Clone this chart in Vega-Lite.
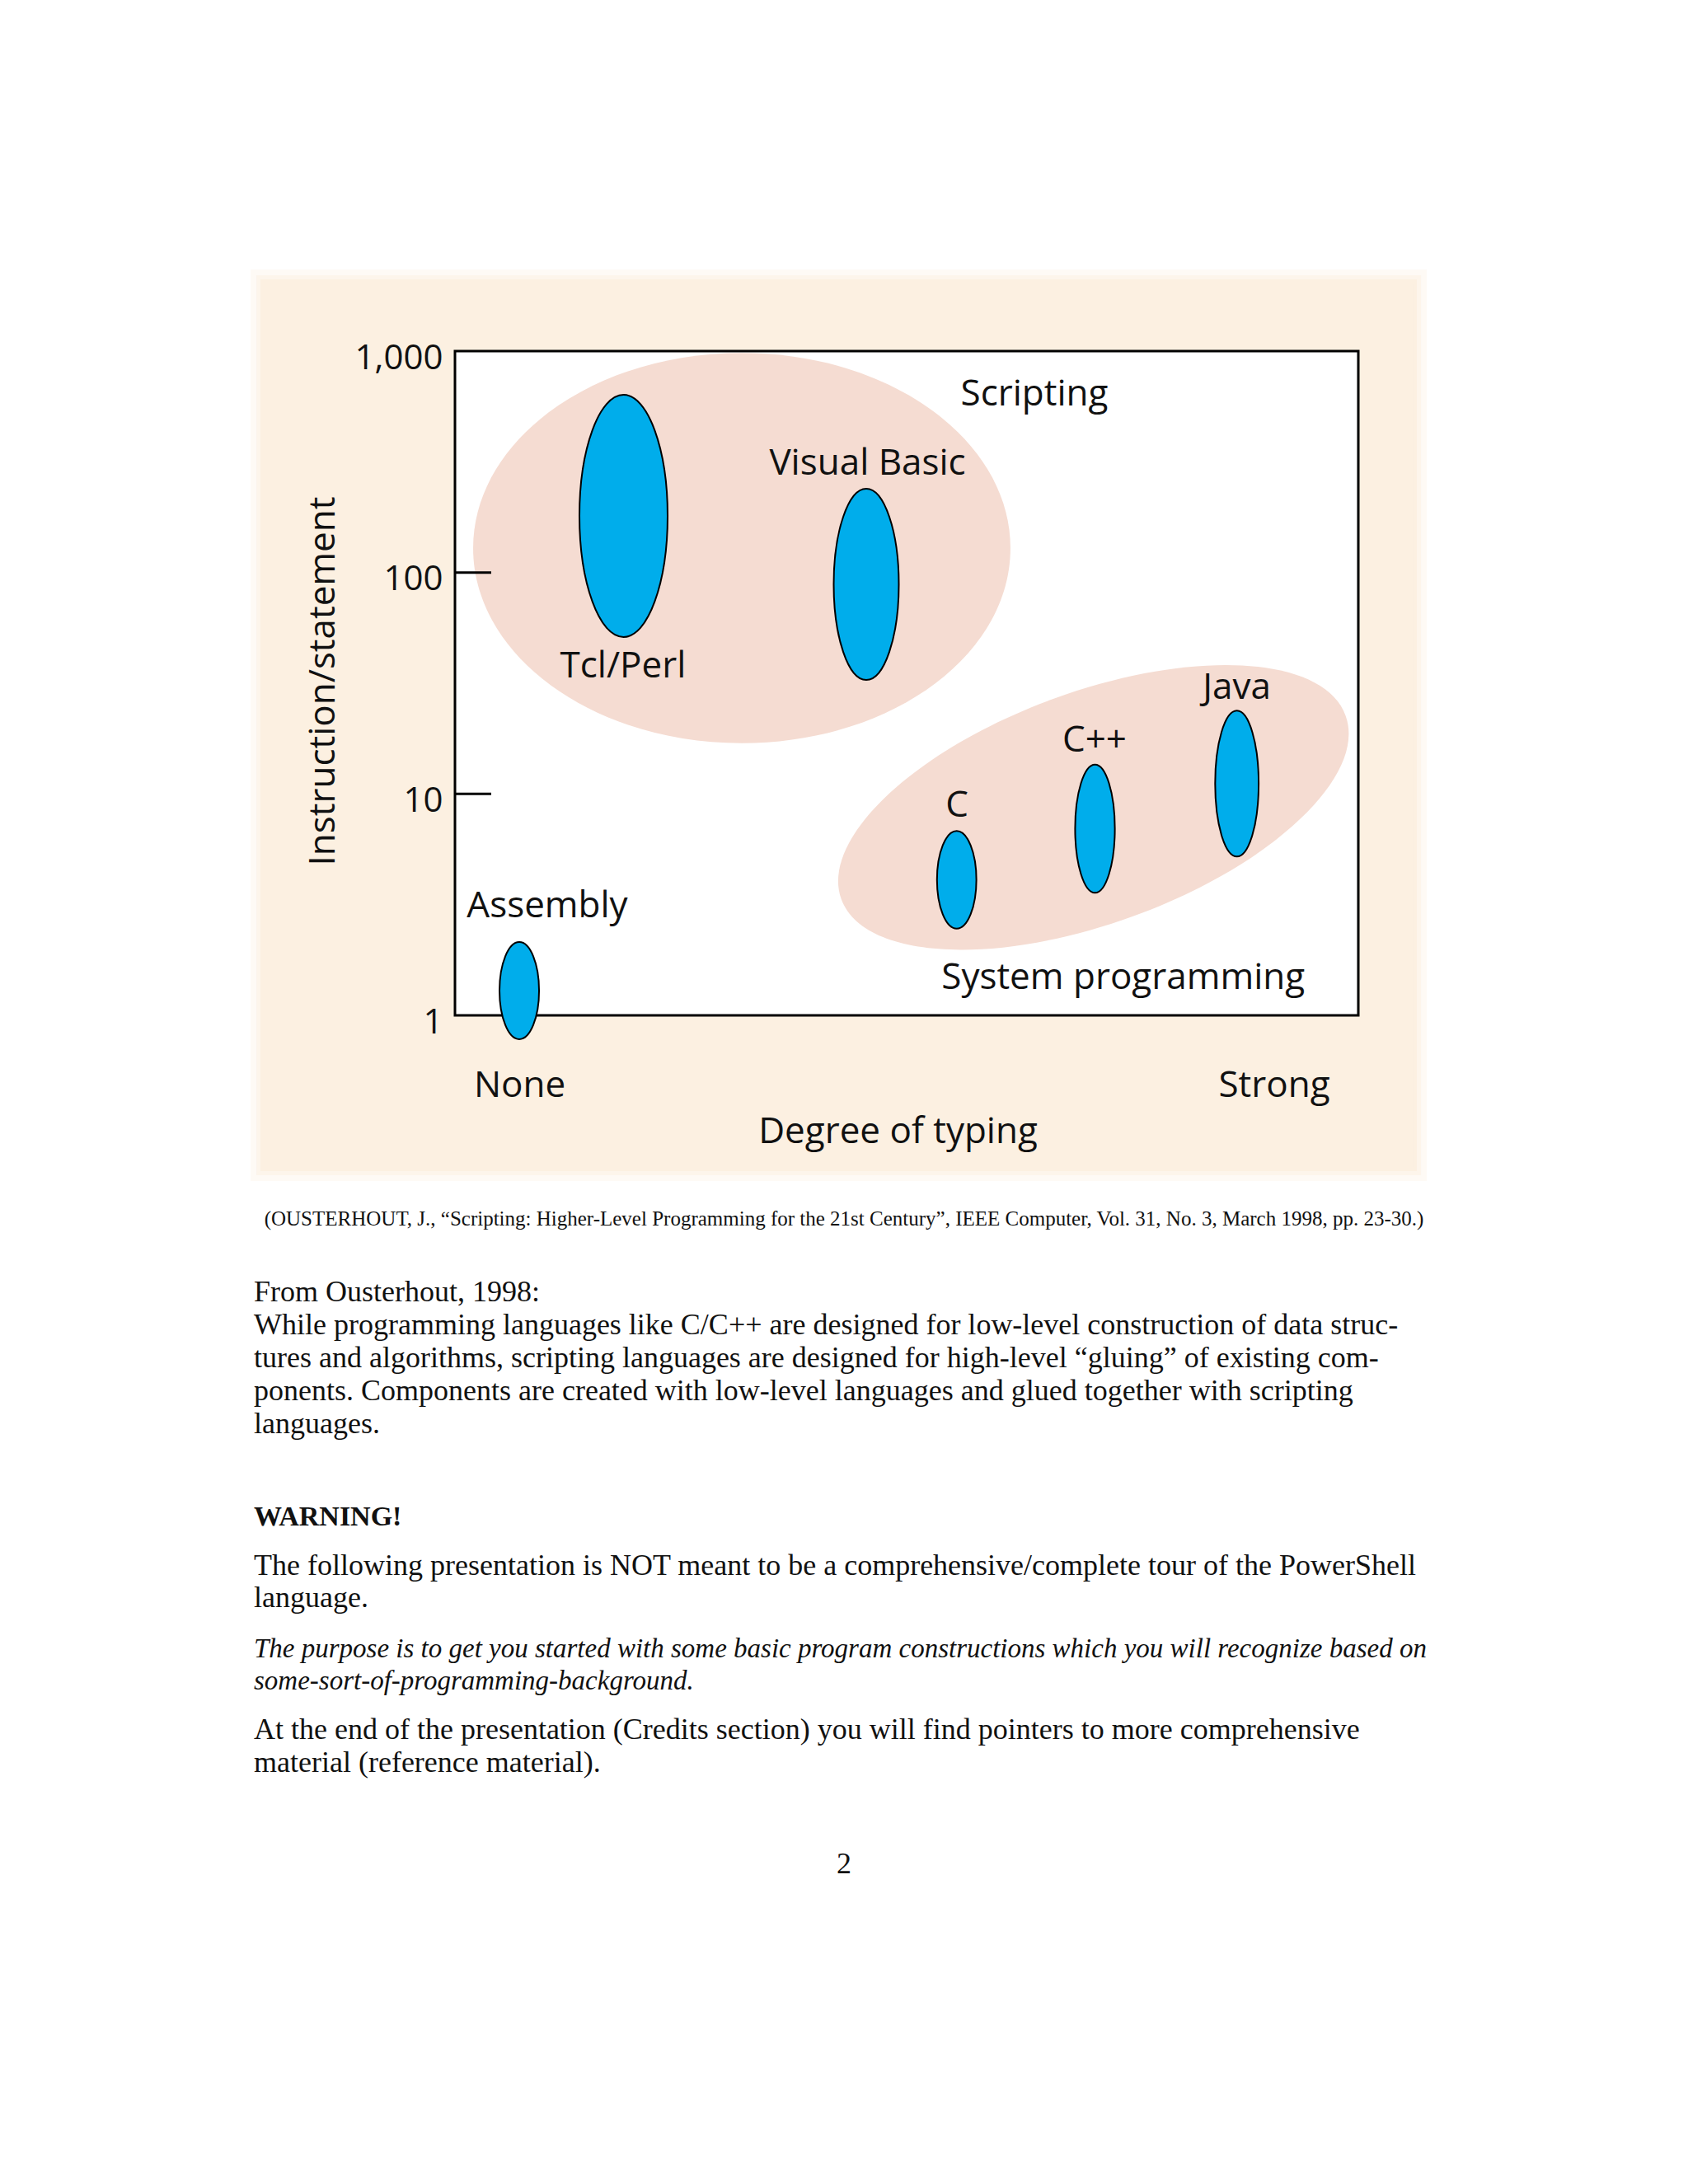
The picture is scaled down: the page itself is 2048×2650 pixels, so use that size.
{
  "$schema": "https://vega.github.io/schema/vega-lite/v6.json",
  "width": 1096,
  "height": 806,
  "autosize": {"type": "none"},
  "padding": {"left": 552, "top": 426, "right": 400, "bottom": 1418},
  "background": "#ffffff",
  "config": {"view": {"stroke": null}, "font": "Open Sans"},
  "datasets": {
    "panel": [{"x0": -0.2153, "x1": 1.0648, "y0": 0.1979, "y1": 2108}],
    "frame": [{"x0": 0, "x1": 1, "y0": 1, "y1": 1000}],
    "ticks": [{"tick": 10}, {"tick": 100}],
    "ellipses": [
      {"name": "Scripting languages", "kind": "region", "typing": 0.3175, "ips": 128.9, "spread": 0.881},
      {"name": "System programming languages", "kind": "region", "typing": 0.7068, "ips": 8.69, "spread": 0.6439},
      {"name": "Tcl/Perl", "kind": "language", "typing": 0.1866, "ips": 180.1, "spread": 0.547},
      {"name": "Visual Basic", "kind": "language", "typing": 0.4553, "ips": 88.4, "spread": 0.4318},
      {"name": "C", "kind": "language", "typing": 0.5554, "ips": 4.096, "spread": 0.2203},
      {"name": "C++", "kind": "language", "typing": 0.7085, "ips": 6.966, "spread": 0.2896},
      {"name": "Java", "kind": "language", "typing": 0.8656, "ips": 11.13, "spread": 0.3294},
      {"name": "Assembly", "kind": "language", "typing": 0.0712, "ips": 1.293, "spread": 0.2196}
    ],
    "labels": [
      {"label": "Scripting", "typing": 0.6414, "ips": 569.6},
      {"label": "Visual Basic", "typing": 0.4567, "ips": 276.5},
      {"label": "Tcl/Perl", "typing": 0.1861, "ips": 33.67},
      {"label": "Java", "typing": 0.8654, "ips": 26.8},
      {"label": "C++", "typing": 0.708, "ips": 15.57},
      {"label": "C", "typing": 0.5557, "ips": 7.91},
      {"label": "Assembly", "typing": 0.1022, "ips": 2.773},
      {"label": "System programming", "typing": 0.7397, "ips": 1.3153}
    ],
    "page": [
      {"kind": "caption", "line": -2.33, "text": "(OUSTERHOUT, J., “Scripting: Higher-Level Programming for the 21st Century”, IEEE Computer, Vol. 31, No. 3, March 1998, pp. 23-30.)"},
      {"kind": "body", "line": 0, "text": "From Ousterhout, 1998:"},
      {"kind": "body", "line": 1, "text": "While programming languages like C/C++ are designed for low-level construction of data struc-"},
      {"kind": "body", "line": 2, "text": "tures and algorithms, scripting languages are designed for high-level “gluing” of existing com-"},
      {"kind": "body", "line": 3, "text": "ponents. Components are created with low-level languages and glued together with scripting"},
      {"kind": "body", "line": 4, "text": "languages."},
      {"kind": "bold", "line": 6.82, "text": "WARNING!"},
      {"kind": "body", "line": 8.33, "text": "The following presentation is NOT meant to be a comprehensive/complete tour of the PowerShell"},
      {"kind": "body", "line": 9.32, "text": "language."},
      {"kind": "italic", "line": 10.84, "text": "The purpose is to get you started with some basic program constructions which you will recognize based on"},
      {"kind": "italic", "line": 11.83, "text": "some-sort-of-programming-background."},
      {"kind": "body", "line": 13.34, "text": "At the end of the presentation (Credits section) you will find pointers to more comprehensive"},
      {"kind": "body", "line": 14.33, "text": "material (reference material)."},
      {"kind": "pagenum", "line": 17.43, "text": "2"}
    ]
  },
  "layer": [
    {
      "layer": [
        {
          "data": {"name": "frame"},
          "mark": {"type": "rect", "fillOpacity": 0, "strokeOpacity": 0},
          "encoding": {
            "x": {
              "field": "x0", "type": "quantitative",
              "scale": {"domain": [0, 1], "nice": false, "zero": false},
              "axis": {
                "values": [0.0712, 0.9065],
                "labelExpr": "datum.value < 0.5 ? 'None' : 'Strong'",
                "labelFont": "Open Sans", "labelFontSize": 44, "labelColor": "#111111",
                "labelBaseline": "alphabetic", "labelAlign": "center", "labelPadding": 98,
                "labelFlush": false, "labelOverlap": false,
                "ticks": false, "domain": false, "grid": false, "zindex": 1,
                "title": "Degree of typing", "titleFont": "Open Sans", "titleFontSize": 44,
                "titleFontWeight": "normal", "titleColor": "#111111",
                "titleBaseline": "alphabetic", "titleX": 537, "titleY": 154
              }
            },
            "x2": {"field": "x1"},
            "y": {
              "field": "y0", "type": "quantitative",
              "scale": {"type": "log", "domain": [1, 1000], "nice": false},
              "axis": {
                "values": [1, 10, 100, 1000], "format": ",",
                "labelFont": "Open Sans", "labelFontSize": 42, "labelColor": "#111111",
                "labelBaseline": "alphabetic", "labelOffset": 21, "labelPadding": 15,
                "labelFlush": false, "labelOverlap": false,
                "ticks": false, "domain": false, "grid": false, "zindex": 1,
                "title": "Instruction/statement", "titleFont": "Open Sans", "titleFontSize": 44,
                "titleFontWeight": "normal", "titleColor": "#111111",
                "titleBaseline": "alphabetic", "titleAngle": -90, "titleX": -147, "titleY": 400
              }
            },
            "y2": {"field": "y1"}
          }
        },
        {
          "data": {"name": "panel"},
          "mark": {"type": "rect", "fill": "#fcf0e1", "stroke": "#fcf0e1", "strokeWidth": 24, "strokeOpacity": 0.35},
          "encoding": {
            "x": {"field": "x0", "type": "quantitative"},
            "x2": {"field": "x1"},
            "y": {"field": "y0", "type": "quantitative"},
            "y2": {"field": "y1"}
          }
        },
        {
          "data": {"name": "panel"},
          "mark": {"type": "rect", "fillOpacity": 0, "stroke": "#fcf0e1", "strokeWidth": 10, "strokeOpacity": 0.5},
          "encoding": {
            "x": {"field": "x0", "type": "quantitative"},
            "x2": {"field": "x1"},
            "y": {"field": "y0", "type": "quantitative"},
            "y2": {"field": "y1"}
          }
        },
        {
          "data": {"name": "frame"},
          "mark": {"type": "rect", "fill": "#ffffff", "stroke": "#000000", "strokeWidth": 3},
          "encoding": {
            "x": {"field": "x0", "type": "quantitative"},
            "x2": {"field": "x1"},
            "y": {"field": "y0", "type": "quantitative"},
            "y2": {"field": "y1"}
          }
        },
        {
          "data": {"name": "ellipses"},
          "transform": [{"filter": "datum.kind === 'region'"}],
          "mark": {"type": "point", "filled": true, "fill": "#f5dcd2", "strokeWidth": 0, "opacity": 1},
          "encoding": {
            "x": {"field": "typing", "type": "quantitative"},
            "y": {"field": "ips", "type": "quantitative"},
            "shape": {
              "field": "name", "type": "nominal", "legend": null,
              "scale": {
                "domain": ["Scripting languages", "System programming languages", "Tcl/Perl", "Visual Basic", "C", "C++", "Java", "Assembly"],
                "range": [
                  "M0,-1C0.7605,-1 1.377,-0.5523 1.377,0C1.377,0.5523 0.7605,1 0,1C-0.7605,1 -1.377,0.5523 -1.377,0C-1.377,-0.5523 -0.7605,-1 0,-1Z",
                  "M1.7685,-0.6436C1.9219,-0.2222 1.2544,0.4075 0.2777,0.763C-0.699,1.1185 -1.6151,1.065 -1.7685,0.6436C-1.9219,0.2222 -1.2544,-0.4075 -0.2777,-0.763C0.699,-1.1185 1.6151,-1.065 1.7685,-0.6436Z",
                  "M0,-1C0.201,-1 0.364,-0.5523 0.364,0C0.364,0.5523 0.201,1 0,1C-0.201,1 -0.364,0.5523 -0.364,0C-0.364,-0.5523 -0.201,-1 0,-1Z",
                  "M0,-1C0.1881,-1 0.3405,-0.5523 0.3405,0C0.3405,0.5523 0.1881,1 0,1C-0.1881,1 -0.3405,0.5523 -0.3405,0C-0.3405,-0.5523 -0.1881,-1 0,-1Z",
                  "M0,-1C0.223,-1 0.4037,-0.5523 0.4037,0C0.4037,0.5523 0.223,1 0,1C-0.223,1 -0.4037,0.5523 -0.4037,0C-0.4037,-0.5523 -0.223,-1 0,-1Z",
                  "M0,-1C0.1711,-1 0.3098,-0.5523 0.3098,0C0.3098,0.5523 0.1711,1 0,1C-0.1711,1 -0.3098,0.5523 -0.3098,0C-0.3098,-0.5523 -0.1711,-1 0,-1Z",
                  "M0,-1C0.1647,-1 0.2983,-0.5523 0.2983,0C0.2983,0.5523 0.1647,1 0,1C-0.1647,1 -0.2983,0.5523 -0.2983,0C-0.2983,-0.5523 -0.1647,-1 0,-1Z",
                  "M0,-1C0.2247,-1 0.4068,-0.5523 0.4068,0C0.4068,0.5523 0.2247,1 0,1C-0.2247,1 -0.4068,0.5523 -0.4068,0C-0.4068,-0.5523 -0.2247,-1 0,-1Z"
                ]
              }
            },
            "size": {"field": "spread", "type": "quantitative", "legend": null, "scale": {"type": "pow", "exponent": 2, "domain": [0, 1], "range": [0, 288733]}}
          }
        },
        {
          "data": {"name": "ticks"},
          "mark": {"type": "rule", "stroke": "#000000", "strokeWidth": 3},
          "encoding": {
            "y": {"field": "tick", "type": "quantitative"},
            "x": {"datum": 0, "type": "quantitative"},
            "x2": {"datum": 0.0401}
          }
        },
        {
          "data": {"name": "ellipses"},
          "transform": [{"filter": "datum.kind === 'language'"}],
          "mark": {"type": "point", "filled": true, "fill": "#00adeb", "stroke": "#000000", "strokeWidth": 2, "opacity": 1},
          "encoding": {
            "x": {"field": "typing", "type": "quantitative"},
            "y": {"field": "ips", "type": "quantitative"},
            "shape": {"field": "name", "type": "nominal", "legend": null},
            "size": {"field": "spread", "type": "quantitative", "legend": null}
          }
        },
        {
          "data": {"name": "labels"},
          "mark": {"type": "text", "font": "Open Sans", "fontSize": 44, "align": "center", "baseline": "alphabetic", "fill": "#111111"},
          "encoding": {
            "x": {"field": "typing", "type": "quantitative"},
            "y": {"field": "ips", "type": "quantitative"},
            "text": {"field": "label"}
          }
        }
      ]
    },
    {
      "data": {"name": "page"},
      "encoding": {
        "y": {"field": "line", "type": "quantitative", "scale": {"domain": [0, 10], "range": [1153.3, 1551.3], "zero": false, "nice": false}, "axis": null},
        "text": {"field": "text"}
      },
      "layer": [
        {
          "transform": [{"filter": "datum.kind === 'caption'"}],
          "mark": {"type": "text", "font": "Liberation Serif", "fontSize": 25, "align": "center", "baseline": "alphabetic", "fill": "#111111"},
          "encoding": {"x": {"datum": 0.5, "type": "quantitative", "scale": {"domain": [0, 1], "range": [-244, 1188], "zero": false, "nice": false}, "axis": null}}
        },
        {
          "transform": [{"filter": "datum.kind === 'body'"}],
          "mark": {"type": "text", "font": "Liberation Serif", "fontSize": 36, "align": "left", "baseline": "alphabetic", "fill": "#111111"},
          "encoding": {"x": {"datum": 0, "type": "quantitative", "axis": null}}
        },
        {
          "transform": [{"filter": "datum.kind === 'bold'"}],
          "mark": {"type": "text", "font": "Liberation Serif", "fontSize": 34, "fontWeight": "bold", "align": "left", "baseline": "alphabetic", "fill": "#111111"},
          "encoding": {"x": {"datum": 0, "type": "quantitative", "axis": null}}
        },
        {
          "transform": [{"filter": "datum.kind === 'italic'"}],
          "mark": {"type": "text", "font": "Liberation Serif", "fontSize": 33, "fontStyle": "italic", "align": "left", "baseline": "alphabetic", "fill": "#111111"},
          "encoding": {"x": {"datum": 0, "type": "quantitative", "axis": null}}
        },
        {
          "transform": [{"filter": "datum.kind === 'pagenum'"}],
          "mark": {"type": "text", "font": "Liberation Serif", "fontSize": 36, "align": "center", "baseline": "alphabetic", "fill": "#111111"},
          "encoding": {"x": {"datum": 0.5, "type": "quantitative", "axis": null}}
        }
      ]
    }
  ],
  "resolve": {"scale": {"x": "independent", "y": "independent"}}
}
